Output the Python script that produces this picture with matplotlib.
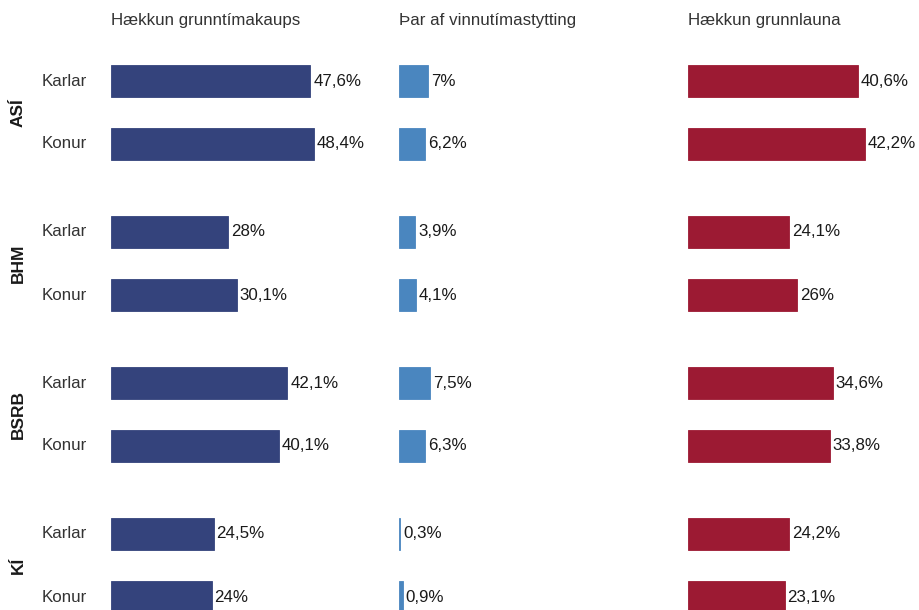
import matplotlib
matplotlib.use("Agg")
import matplotlib.pyplot as plt

plt.rcParams['font.family'] = ['Liberation Sans', 'DejaVu Sans']

groups = ["ASÍ", "BHM", "BSRB", "KÍ"]
genders = ["Karlar", "Konur"]
titles = ["Hækkun grunntímakaups", "Þar af vinnutímastytting", "Hækkun grunnlauna"]
# values per panel, ordered group by group: Karlar, Konur
grunntimakaup = [47.6, 48.4, 28.0, 30.1, 42.1, 40.1, 24.5, 24.0]
vinnutimastytting = [7.0, 6.2, 3.9, 4.1, 7.5, 6.3, 0.3, 0.9]
grunnlaun = [40.6, 42.2, 24.1, 26.0, 34.6, 33.8, 24.2, 23.1]
labels1 = ["47,6%", "48,4%", "28%", "30,1%", "42,1%", "40,1%", "24,5%", "24%"]
labels2 = ["7%", "6,2%", "3,9%", "4,1%", "7,5%", "6,3%", "0,3%", "0,9%"]
labels3 = ["40,6%", "42,2%", "24,1%", "26%", "34,6%", "33,8%", "24,2%", "23,1%"]

colors = ["#34437C", "#4A86BF", "#9C1A33"]
W, H = 919, 610
fig = plt.figure(figsize=(W / 100, H / 100), dpi=100)

group_step = 151 / 63
ypos = []
for g in range(len(groups)):
    for i in range(len(genders)):
        ypos.append(g * group_step + i)

ytop_pix, ybot_pix = 40, 610
y0 = (ytop_pix - 81) / 63
y1 = (ybot_pix - 81) / 63
px_per_unit = 4.19

panels = [(111, 399), (399, 688), (688, 919)]
data = [grunntimakaup, vinnutimastytting, grunnlaun]
labs = [labels1, labels2, labels3]
for p, ((xl, xr), vals, lb, col, title) in enumerate(zip(panels, data, labs, colors, titles)):
    ax = fig.add_axes([xl / W, 1 - ybot_pix / H, (xr - xl) / W, (ybot_pix - ytop_pix) / H])
    ax.barh(ypos, vals, height=32 / 63, color=col, edgecolor=col, linewidth=0.6)
    ax.set_xlim(0, (xr - xl) / px_per_unit)
    ax.set_ylim(y1, y0)
    ax.axis('off')
    for y, v, t in zip(ypos, vals, lb):
        ax.annotate(t, (v, y), xytext=(2, 0), textcoords='offset points',
                    va='center', ha='left', fontsize=12.2, color='#1a1a1a')
    fig.text(xl / W, 1 - 20 / H, title, ha='left', va='center', fontsize=12.2, color='#333333')

# row labels
for g, grp in enumerate(groups):
    for i, gen in enumerate(genders):
        ypix = 81 + 63 * (g * group_step + i)
        fig.text(42 / W, 1 - ypix / H, gen, ha='left', va='center', fontsize=12.2, color='#333333')
    ymid = 81 + 63 * (g * group_step + 0.5)
    fig.text(18 / W, 1 - ymid / H, grp, ha='center', va='center', rotation=90,
             fontsize=12.5, fontweight='bold', color='#1a1a1a')

fig.savefig("out.png", dpi=100)
